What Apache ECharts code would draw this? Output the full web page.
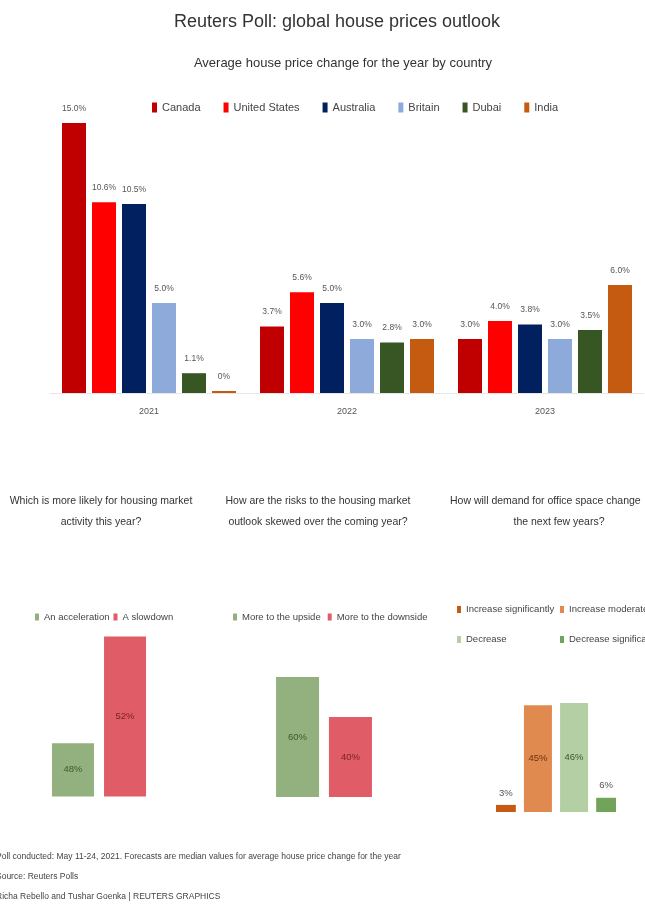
<!DOCTYPE html>
<html>
<head>
<meta charset="utf-8">
<script src="https://cdn.jsdelivr.net/npm/echarts@6/dist/echarts.min.js"></script>
<style>
html,body{margin:0;padding:0;background:#fff;}
#chart{width:645px;height:909px;}
</style>
</head>
<body>
<div id="chart"></div>
<script>
// ---- Data ----
const years = ['2021', '2022', '2023'];
const countries = ['Canada', 'United States', 'Australia', 'Britain', 'Dubai', 'India'];
const canada = [15.0, 3.7, 3.0];
const unitedStates = [10.6, 5.6, 4.0];
const australia = [10.5, 5.0, 3.8];
const britain = [5.0, 3.0, 3.0];
const dubai = [1.1, 2.8, 3.5];
const india = [0, 3.0, 6.0];

const activityNames = ['An acceleration', 'A slowdown'];
const activityValues = [48, 52];

const riskNames = ['More to the upside', 'More to the downside'];
const riskValues = [60, 40];

const officeNames = ['Increase significantly', 'Increase moderately', 'Decrease', 'Decrease significantly'];
const officeValues = [3, 45, 46, 6];

// ---- Styles ----
const FONT = "'Liberation Sans', Arial, sans-serif";
const countryColors = ['#c00000', '#ff0000', '#002060', '#8eaadb', '#375623', '#c55a11'];
const activityColors = ['#93b07f', '#e05c66'];
const activityLabelColors = ['#3b5a2c', '#7a1f25'];
const riskColors = ['#93b07f', '#e05c66'];
const riskLabelColors = ['#3b5a2c', '#7a1f25'];
const officeColors = ['#c55a11', '#e08a50', '#b4cfa4', '#72a35a'];
const officeLabelColors = ['#555', '#6b3210', '#3b5a2c', '#555'];

const countryData = [canada, unitedStates, australia, britain, dubai, india];

const series = [];
countries.forEach((name, i) => {
  series.push({
    name: name, type: 'bar', xAxisIndex: 0, yAxisIndex: 0,
    data: countryData[i], barWidth: 24, barGap: '25%',
    barMinHeight: name === 'India' ? 2 : 0,
    itemStyle: { color: countryColors[i] },
    label: {
      show: true, position: 'top', distance: 10, fontSize: 8.5, color: '#555', fontFamily: FONT,
      formatter: p => (p.value === 0 ? '0%' : p.value.toFixed(1) + '%')
    }
  });
});

activityNames.forEach((name, i) => {
  series.push({
    name: name, type: 'bar', xAxisIndex: 1, yAxisIndex: 1,
    data: [activityValues[i]], barWidth: 42, barGap: '24%',
    itemStyle: { color: activityColors[i] },
    label: { show: true, position: 'inside', fontSize: 9.5, color: activityLabelColors[i], fontFamily: FONT, formatter: '{c}%' }
  });
});
riskNames.forEach((name, i) => {
  series.push({
    name: name, type: 'bar', xAxisIndex: 2, yAxisIndex: 2,
    data: [riskValues[i]], barWidth: 43, barGap: '23%',
    itemStyle: { color: riskColors[i] },
    label: { show: true, position: 'inside', fontSize: 9.5, color: riskLabelColors[i], fontFamily: FONT, formatter: '{c}%' }
  });
});
officeNames.forEach((name, i) => {
  const small = officeValues[i] < 10;
  series.push({
    name: name, type: 'bar', xAxisIndex: 3, yAxisIndex: 3,
    data: [officeValues[i]], barWidth: 28, barGap: '29%',
    itemStyle: { color: officeColors[i] },
    label: { show: true, position: small ? 'top' : 'inside', distance: 7, fontSize: 9.5, color: officeLabelColors[i], fontFamily: FONT, formatter: '{c}%' }
  });
});

const hiddenY = (min, max) => ({ type: 'value', min: min, max: max, show: false });
const hiddenX = (gi) => ({ type: 'category', gridIndex: gi, data: [''], show: false });

const legendText = (size) => ({ fontSize: size, color: '#444', fontFamily: FONT });

const legends = [
  { data: countries, left: 152, top: 102, padding: 0, icon: 'rect', itemWidth: 5, itemHeight: 10, itemGap: 23,
    textStyle: legendText(11), selectedMode: false },
  { data: activityNames, left: 35, top: 612, padding: 0, icon: 'rect', itemWidth: 4, itemHeight: 7, itemGap: 4,
    textStyle: legendText(9.5), selectedMode: false },
  { data: riskNames, left: 233, top: 612, padding: 0, icon: 'rect', itemWidth: 4, itemHeight: 7, itemGap: 7,
    textStyle: legendText(9.5), selectedMode: false }
];
const officeLegendPos = [[457, 604.5], [560, 604.5], [457, 634.5], [560, 634.5]];
officeNames.forEach((name, i) => {
  legends.push({ data: [name], left: officeLegendPos[i][0], top: officeLegendPos[i][1], padding: 0, icon: 'rect',
    itemWidth: 4, itemHeight: 7, textStyle: legendText(9.5), selectedMode: false });
});

const titleStyle = (size, color) => ({ fontSize: size, fontWeight: 'normal', color: color, fontFamily: FONT });

const option = {
  backgroundColor: '#ffffff',
  animation: false,
  title: [
    { text: 'Reuters Poll: global house prices outlook', left: 337, top: 9, textAlign: 'center', padding: 0,
      textStyle: Object.assign(titleStyle(18, '#333'), { lineHeight: 26 }) },
    { text: 'Average house price change for the year by country', left: 343, top: 53, textAlign: 'center', padding: 0,
      textStyle: Object.assign(titleStyle(13, '#333'), { lineHeight: 20 }) },
    { text: 'Which is more likely for housing market\nactivity this year?', left: 101, top: 491, textAlign: 'center', padding: 0,
      textStyle: Object.assign(titleStyle(10.5, '#333'), { lineHeight: 21 }) },
    { text: 'How are the risks to the housing market\noutlook skewed over the coming year?', left: 318, top: 491, textAlign: 'center', padding: 0,
      textStyle: Object.assign(titleStyle(10.5, '#333'), { lineHeight: 21 }) },
    { text: 'How will demand for office space change', left: 450, top: 491, textAlign: 'left', padding: 0,
      textStyle: Object.assign(titleStyle(10.5, '#333'), { lineHeight: 21 }) },
    { text: 'the next few years?', left: 559, top: 512, textAlign: 'center', padding: 0,
      textStyle: Object.assign(titleStyle(10.5, '#333'), { lineHeight: 21 }) },
    { text: 'Poll conducted: May 11-24, 2021. Forecasts are median values for average house price change for the year\nSource: Reuters Polls\nRicha Rebello and Tushar Goenka | REUTERS GRAPHICS',
      left: -4, top: 847, textAlign: 'left', padding: 0,
      textStyle: Object.assign(titleStyle(8.5, '#444'), { lineHeight: 20 }) }
  ],
  legend: legends,
  grid: [
    { left: 50, top: 123, width: 594, height: 270 },
    { left: 49, top: 636.5, width: 100, height: 160 },
    { left: 274, top: 677, width: 100, height: 120 },
    { left: 496, top: 703, width: 120, height: 109 }
  ],
  xAxis: [
    { type: 'category', gridIndex: 0, data: years,
      axisLine: { show: true, lineStyle: { color: '#e6e6e6', width: 1 } },
      axisTick: { show: false },
      axisLabel: { color: '#555', fontSize: 9, fontFamily: FONT, margin: 14 } },
    hiddenX(1), hiddenX(2), hiddenX(3)
  ],
  yAxis: [
    Object.assign(hiddenY(0, 15), { gridIndex: 0, splitLine: { show: false } }),
    Object.assign(hiddenY(46, 52), { gridIndex: 1 }),
    Object.assign(hiddenY(0, 60), { gridIndex: 2 }),
    Object.assign(hiddenY(0, 46), { gridIndex: 3 })
  ],
  series: series
};

const chart = echarts.init(document.getElementById('chart'), null, { renderer: 'canvas' });
chart.setOption(option);
</script>
</body>
</html>
